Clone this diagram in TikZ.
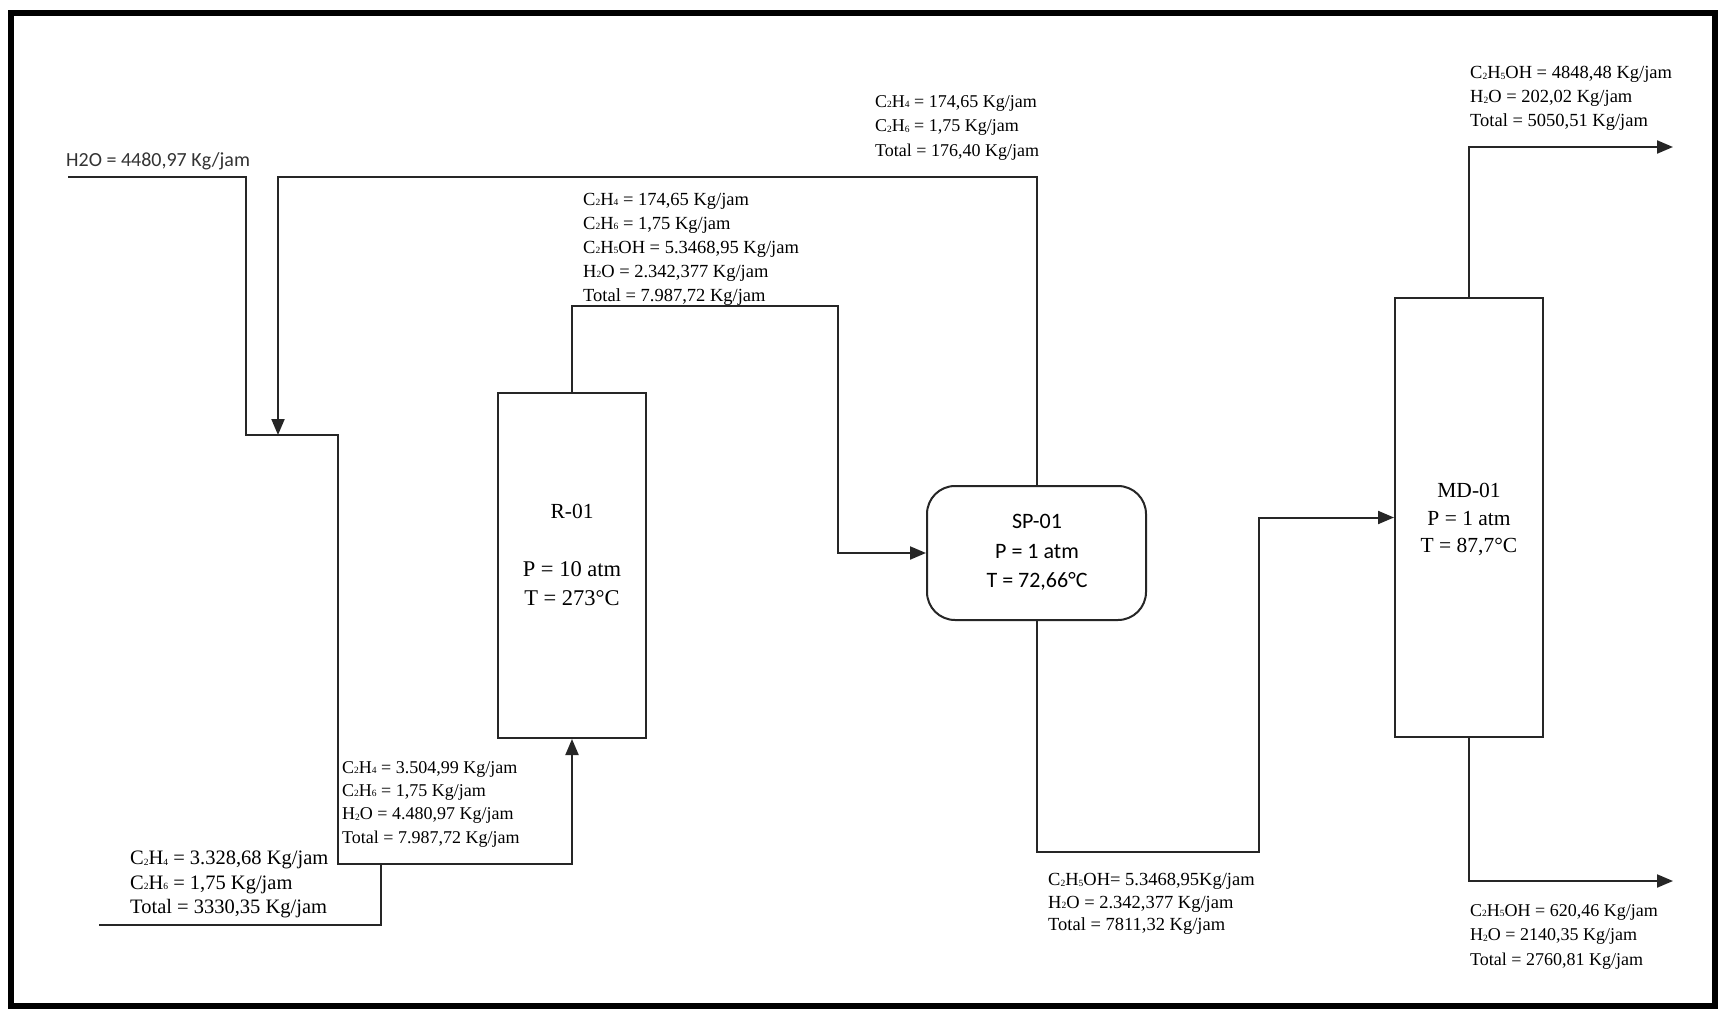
\documentclass[tikz,border=0pt]{standalone}
\usepackage{fontspec}
\setmainfont{Liberation Serif}
\newfontfamily\carl{Carlito}
\usetikzlibrary{arrows.meta}
\newcommand{\sbs}[1]{\raisebox{-0.5pt}{\fontsize{9.5}{9.5}\selectfont #1}}
\begin{document}
\begin{tikzpicture}[x=1pt,y=-1pt,
  flow/.style={draw=black!85, line width=2pt},
  arr/.style={flow, -{Triangle[length=16pt,width=13pt]}},
  unit/.style={draw=black!85, line width=2pt, fill=white, inner sep=0pt},
  lbl/.style={anchor=north west, inner sep=0pt, align=left, font=\fontsize{18}{24.5}\selectfont},
  boxtxt/.style={inner sep=0pt, font=\fontsize{21.5}{25}\selectfont},
  spbox/.style={inner sep=0pt, font=\carl\fontsize{22}{25}\selectfont}]
\useasboundingbox (0,0) rectangle (1720,1011);
\fill[white] (0,0) rectangle (1720,1011);
\draw[line width=6pt, black] (11,13) rectangle (1715,1006);

% units
\node[unit, minimum width=148pt, minimum height=345pt] (R01) at (572,565.5) {};
\node[unit, rounded corners=28pt, minimum width=219pt, minimum height=134pt] (SP01) at (1036.5,553) {};
\node[unit, minimum width=148pt, minimum height=439pt] (MD01) at (1469,517.5) {};

% unit texts
\node[boxtxt] (r1a) at (572,511) {R-01};
\node[boxtxt, font=\fontsize{22.5}{25}\selectfont] (r1b) at (572,569) {P = 10 atm};
\node[boxtxt, font=\fontsize{22.5}{25}\selectfont] (r1c) at (572,598) {T = 273°C};
\node[spbox] (spa) at (1037,521) {SP-01};
\node[spbox] (spb) at (1037,551) {P = 1 atm};
\node[spbox] (spc) at (1037,581) {T = 72,66°C};
\node[boxtxt] (mda) at (1469,490) {MD-01};
\node[boxtxt] (mdb) at (1469,519) {P = 1 atm};
\node[boxtxt] (mdc) at (1469,547) {T = 87,7°C};

% coordinates
\coordinate (h2oin) at (68,177);
\coordinate (mixL) at (246,435);
\coordinate (mixR) at (338,435);
\coordinate (jn) at (338,864);
\coordinate (feedin) at (99,925);
\coordinate (feedj) at (381,864);
\coordinate (recyT) at (278,177);
\coordinate (recyB) at (278,435);
\coordinate (c1) at (838,306);
\coordinate (c2) at (1259,852);
\coordinate (topout) at (1673,147);
\coordinate (botout) at (1673,881);

% streams
\draw[arr] (h2oin) -| (mixL) -- (mixR) -- (jn) -| (R01.south);
\draw[flow] (feedin) -| (feedj);
\draw[arr] (SP01.north) |- (recyT) -- (recyB);
\draw[arr] (R01.north) |- (c1) |- (SP01.west);
\draw[arr] (SP01.south) |- (c2) |- (MD01.west);
\draw[arr] (MD01.north) |- (topout);
\draw[arr] (MD01.south) |- (botout);

% labels
\node[anchor=west, inner sep=0pt, text=black!80, font=\carl\fontsize{20}{24}\selectfont] (lh2o) at (66,161) {H2O = 4480,97 Kg/jam};
\node[lbl] (ltop) at (875,95) {C\sbs{2}H\sbs{4} = 174,65 Kg/jam\\C\sbs{2}H\sbs{6} = 1,75 Kg/jam\\Total = 176,40 Kg/jam};
\node[lbl, font=\fontsize{18.5}{24}\selectfont] (lr1) at (583,193) {C\sbs{2}H\sbs{4} = 174,65 Kg/jam\\C\sbs{2}H\sbs{6} = 1,75 Kg/jam\\C\sbs{2}H\sbs{5}OH = 5.3468,95 Kg/jam\\H\sbs{2}O = 2.342,377 Kg/jam\\Total = 7.987,72 Kg/jam};
\node[lbl, font=\fontsize{18.5}{24}\selectfont] (lmdt) at (1470,66) {C\sbs{2}H\sbs{5}OH = 4848,48 Kg/jam\\H\sbs{2}O = 202,02 Kg/jam\\Total = 5050,51 Kg/jam};
\node[lbl, font=\fontsize{20.5}{24.5}\selectfont] (lfeed) at (130,851) {C\sbs{2}H\sbs{4} = 3.328,68 Kg/jam\\C\sbs{2}H\sbs{6} = 1,75 Kg/jam\\Total = 3330,35 Kg/jam};
\node[lbl, font=\fontsize{18}{23.3}\selectfont] (lmix) at (342,761) {C\sbs{2}H\sbs{4} = 3.504,99 Kg/jam\\C\sbs{2}H\sbs{6} = 1,75 Kg/jam\\H\sbs{2}O = 4.480,97 Kg/jam\\Total = 7.987,72 Kg/jam};
\node[lbl, font=\fontsize{18.5}{22.5}\selectfont] (lsp) at (1048,873) {C\sbs{2}H\sbs{5}OH= 5.3468,95Kg/jam\\H\sbs{2}O = 2.342,377 Kg/jam\\Total = 7811,32 Kg/jam};
\node[lbl] (lmdb) at (1470,904) {C\sbs{2}H\sbs{5}OH = 620,46 Kg/jam\\H\sbs{2}O = 2140,35 Kg/jam\\Total = 2760,81 Kg/jam};
\end{tikzpicture}
\end{document}
